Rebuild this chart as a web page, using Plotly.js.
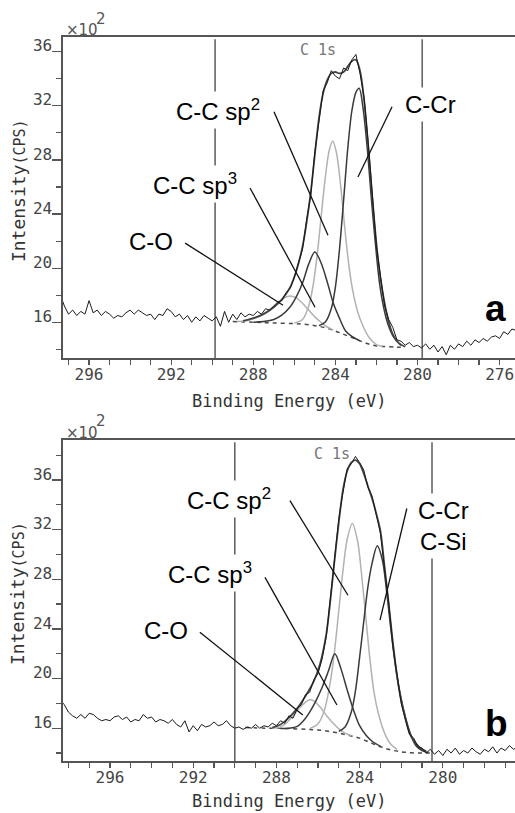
<!DOCTYPE html>
<html><head><meta charset="utf-8">
<script src="https://cdn.plot.ly/plotly-3.0.1.min.js"></script>
<style>html,body{margin:0;padding:0;background:#fff}#chart{width:515px;height:813px}</style>
</head><body><div id="chart"></div>
<script>
// Binding energy grid (eV), shared by both spectra
const energy = [
298.4,298.2,298.0,297.8,297.6,297.4,297.2,297.0,296.8,296.6,
296.4,296.2,296.0,295.8,295.6,295.4,295.2,295.0,294.8,294.6,
294.4,294.2,294.0,293.8,293.6,293.4,293.2,293.0,292.8,292.6,
292.4,292.2,292.0,291.8,291.6,291.4,291.2,291.0,290.8,290.6,
290.4,290.2,290.0,289.8,289.6,289.4,289.2,289.0,288.8,288.6,
288.4,288.2,288.0,287.8,287.6,287.4,287.2,287.0,286.8,286.6,
286.4,286.2,286.0,285.8,285.6,285.4,285.2,285.0,284.8,284.6,
284.4,284.2,284.0,283.8,283.6,283.4,283.2,283.0,282.8,282.6,
282.4,282.2,282.0,281.8,281.6,281.4,281.2,281.0,280.8,280.6,
280.4,280.2,280.0,279.8,279.6,279.4,279.2,279.0,278.8,278.6,
278.4,278.2,278.0,277.8,277.6,277.4,277.2,277.0,276.8,276.6,
276.4,276.2,276.0,275.8,275.6,275.4,275.2];

// Measured intensity (x10^2 CPS), panel a
const rawA = [
null,null,null,null,null,18.0,17.2,16.6,16.9,16.5,
16.8,16.6,17.6,16.7,16.9,16.5,16.8,16.6,16.3,16.5,
16.4,16.7,16.9,16.6,16.9,16.7,16.5,16.6,16.2,16.6,
16.5,17.0,16.8,16.4,16.6,16.2,16.5,16.0,16.4,16.1,
16.5,16.3,16.1,16.4,15.7,16.8,16.0,16.6,16.2,16.7,
16.4,16.6,16.5,16.8,16.6,17.0,16.9,17.2,17.5,17.6,
18.2,18.5,19.3,20.4,21.4,23.6,25.4,28.6,30.9,33.1,
33.7,34.6,34.2,34.0,34.8,34.6,35.4,35.8,34.4,32.6,
29.3,25.4,21.6,19.4,17.2,16.2,15.6,14.7,14.6,14.3,
14.5,14.2,14.3,14.1,14.4,14.0,14.3,13.8,14.2,13.6,
14.3,14.0,14.4,14.2,14.6,14.3,14.7,14.5,14.8,14.6,
14.9,15.0,14.8,15.3,15.1,15.5,15.4];

// Measured intensity (x10^2 CPS), panel b
const rawB = [
18.3,17.9,17.3,17.0,16.8,17.1,16.8,17.2,17.1,16.8,
16.6,16.7,16.6,16.9,17.0,16.7,16.9,16.5,16.7,16.6,
17.1,16.8,16.9,16.5,16.7,16.6,16.4,16.7,16.3,16.1,
16.6,15.7,16.2,15.8,16.3,16.1,16.2,16.5,16.2,16.3,
16.6,16.2,16.0,16.1,15.9,16.1,16.0,16.3,16.0,16.2,
16.1,16.4,16.2,16.6,16.4,17.0,16.8,17.6,17.9,18.7,
18.9,19.9,20.4,21.6,23.4,26.6,29.4,32.9,35.0,36.9,
37.3,37.9,37.4,36.8,35.4,34.7,33.2,31.7,28.8,26.1,
22.6,20.3,18.0,16.7,15.5,15.2,14.5,14.4,14.0,14.3,
13.9,14.2,13.8,14.3,14.0,14.4,13.9,14.2,14.0,14.4,
14.1,13.9,14.3,14.1,14.5,14.0,14.4,14.2,14.6,14.3,
14.5,14.2,14.4,14.3,14.5,14.4,14.5];

// Panel a fit: background, components, envelope
const bgAx = [289.0,288.0,287.0,286.0,285.5,285.0,284.5,284.0,283.5,283.0,282.5,282.0,281.5,281.0,280.7];
const bgAy = [16.05,16.0,15.95,15.9,15.85,15.75,15.6,15.35,15.05,14.75,14.45,14.25,14.2,14.15,14.15];
const coAx = [288.8,288.4,288.0,287.6,287.2,286.8,286.5,286.2,285.9,285.6,285.3,285.0,284.7,284.4,284.1];
const coAy = [16.06,16.1,16.25,16.55,16.95,17.45,17.8,17.95,17.8,17.4,16.9,16.4,16.0,15.65,15.42];
const sp3Ax = [288.0,287.5,287.0,286.6,286.2,285.9,285.6,285.3,285.0,284.7,284.4,284.1,283.8,283.5,283.2,282.8];
const sp3Ay = [16.0,16.05,16.2,16.55,17.15,17.9,18.9,20.3,21.2,20.4,19.0,17.4,16.3,15.35,14.95,14.62];
const sp2Ax = [286.0,285.6,285.3,285.1,284.9,284.7,284.5,284.3,284.13,283.95,283.75,283.55,283.35,283.15,282.9,282.65,282.35,282.0,281.7];
const sp2Ay = [15.95,16.2,17.2,18.6,20.8,23.7,26.6,28.7,29.4,28.55,26.2,23.1,20.3,18.3,16.7,15.7,14.85,14.35,14.2];
const crAx = [284.8,284.5,284.2,284.0,283.8,283.6,283.4,283.2,283.0,282.84,282.65,282.45,282.25,282.05,281.85,281.65,281.45,281.2,280.9,280.6];
const crAy = [15.75,16.0,17.0,18.6,21.4,25.0,28.8,31.6,33.0,33.3,31.8,28.9,25.2,21.8,18.9,17.1,15.9,15.0,14.45,14.18];
const envAx = [288.5,288.0,287.5,287.0,286.6,286.2,285.9,285.6,285.4,285.2,285.0,284.8,284.6,284.4,284.2,284.0,283.8,283.6,283.4,283.2,283.0,282.8,282.6,282.4,282.2,282.0,281.8,281.6,281.4,281.2,281.0,280.8];
const envAy = [16.1,16.3,16.6,17.1,17.7,18.6,19.8,21.6,23.4,25.6,28.4,31.1,32.9,33.9,34.4,34.5,34.4,34.5,34.9,35.3,35.4,34.6,32.4,29.0,25.2,21.8,19.2,17.4,16.0,15.1,14.6,14.3];

// Panel b fit
const bgBx = [289.5,288.5,287.5,286.5,286.0,285.5,285.0,284.5,284.0,283.5,283.0,282.5,282.0,281.5,281.0,280.6];
const bgBy = [16.05,16.0,15.98,15.9,15.85,15.75,15.6,15.42,15.2,14.85,14.5,14.25,14.1,14.02,14.0,14.0];
const coBx = [288.2,287.8,287.5,287.2,286.9,286.6,286.4,286.2,285.9,285.6,285.3,285.0,284.7,284.4];
const coBy = [16.0,16.1,16.45,17.0,17.6,18.1,18.3,18.2,17.7,17.05,16.45,15.95,15.6,15.4];
const sp3Bx = [287.8,287.4,287.0,286.7,286.4,286.1,285.8,285.5,285.19,284.9,284.6,284.3,284.0,283.7,283.4,283.0];
const sp3By = [15.98,16.0,16.15,16.6,17.3,18.2,19.3,20.6,22.0,20.8,19.1,17.5,16.2,15.45,14.95,14.55];
const sp2Bx = [286.4,286.0,285.7,285.4,285.2,285.0,284.8,284.6,284.35,284.1,283.9,283.7,283.5,283.3,283.1,282.8,282.5,282.2];
const sp2By = [15.97,16.35,17.4,19.8,22.3,25.5,28.7,31.2,32.5,31.1,28.3,24.9,21.5,18.8,17.2,15.6,14.7,14.3];
const crBx = [285.0,284.7,284.4,284.2,284.0,283.8,283.6,283.4,283.15,282.9,282.7,282.5,282.3,282.1,281.9,281.7,281.5,281.3,281.0,280.7];
const crBy = [15.75,16.1,17.3,19.0,21.7,24.6,27.4,29.3,30.7,29.5,27.0,24.0,21.3,19.2,17.6,16.3,15.3,14.6,14.2,14.05];
const envBx = [288.2,287.8,287.4,287.0,286.6,286.2,285.9,285.6,285.4,285.2,285.0,284.8,284.6,284.4,284.2,284.0,283.8,283.6,283.4,283.2,283.0,282.8,282.6,282.4,282.2,282.0,281.8,281.6,281.4,281.2,281.0,280.8];
const envBy = [16.05,16.3,16.85,17.6,18.6,19.8,21.2,23.6,26.4,29.6,32.6,35.2,36.7,37.4,37.6,37.3,36.5,35.5,34.5,33.3,31.9,29.0,26.0,22.9,20.2,18.2,16.8,15.6,15.0,14.6,14.3,14.15];

// Labels
const peakLabelsA = ['C-C sp<sup>2</sup>','C-C sp<sup>3</sup>','C-O','C-Cr'];
const peakLabelsB = ['C-C sp<sup>2</sup>','C-C sp<sup>3</sup>','C-O','C-Cr<br>C-Si'];
const xTickVals = [296,292,288,284,280,276];
const yTickVals = [16,20,24,28,32,36];

const DARK = '#3a3a3a', LIGHT = '#b2b2b2';
function panel(xa, ya, raw, bx, by, cox, coy, s3x, s3y, s2x, s2y, crx, cry, ex, ey){
  const sp = {shape:'spline', smoothing:0.9};
  return [
    {x:bx, y:by, xaxis:xa, yaxis:ya, mode:'lines', line:{color:'#4a4a4a', width:1.5, dash:'4px,4px', shape:'spline'}, hoverinfo:'skip'},
    {x:cox, y:coy, xaxis:xa, yaxis:ya, mode:'lines', line:Object.assign({color:LIGHT, width:1.5}, sp)},
    {x:s2x, y:s2y, xaxis:xa, yaxis:ya, mode:'lines', line:Object.assign({color:LIGHT, width:1.5}, sp)},
    {x:s3x, y:s3y, xaxis:xa, yaxis:ya, mode:'lines', line:Object.assign({color:DARK, width:1.5}, sp)},
    {x:crx, y:cry, xaxis:xa, yaxis:ya, mode:'lines', line:Object.assign({color:DARK, width:1.5}, sp)},
    {x:ex, y:ey, xaxis:xa, yaxis:ya, mode:'lines', line:Object.assign({color:'#444', width:1.8}, sp)},
    {x:energy, y:raw, xaxis:xa, yaxis:ya, mode:'lines', line:{color:'#1a1a1a', width:1}, connectgaps:false}
  ];
}
const data = panel('x','y',rawA,bgAx,bgAy,coAx,coAy,sp3Ax,sp3Ay,sp2Ax,sp2Ay,crAx,crAy,envAx,envAy)
  .concat(panel('x2','y2',rawB,bgBx,bgBy,coBx,coBy,sp3Bx,sp3By,sp2Bx,sp2By,crBx,crBy,envBx,envBy));

const AX = '#555';
const tickFont = {family:'DejaVu Sans Mono', size:16, color:'#444'};
function xAxis(range, anchor){
  return {domain:[0.1223,1], range:range, anchor:anchor, showline:true, linecolor:AX, linewidth:1.6, mirror:true,
    ticks:'outside', ticklen:5, tickwidth:1.2, tickcolor:AX, tickvals:xTickVals, ticktext:xTickVals.map(String),
    minor:{dtick:1, tick0:0, ticks:'outside', ticklen:5, tickwidth:1.2, tickcolor:AX, showgrid:false},
    showgrid:false, zeroline:false, tickfont:tickFont, ticklabelstandoff:-4};
}
function yAxis(domain, range, anchor){
  return {domain:domain, range:range, anchor:anchor, showline:true, linecolor:AX, linewidth:1.6, mirror:true,
    ticks:'outside', ticklen:9, tickwidth:1.2, tickcolor:AX, tickvals:yTickVals, ticktext:yTickVals.map(String),
    minor:{dtick:2, tick0:0, ticks:'outside', ticklen:5, tickwidth:1.2, tickcolor:AX, showgrid:false},
    showgrid:false, zeroline:false, tickfont:tickFont, ticklabelshift:-6, ticklabelstandoff:-3};
}

const lblFont = {family:'Liberation Sans, Arial', size:24, color:'#000'};
function peakAnn(xr, yr, texts, xs, ys){
  return texts.map((t,i)=>({xref:xr, yref:yr, x:xs[i], y:ys[i], text:t, showarrow:false, font:lblFont,
    bgcolor:'#fff', borderpad:3, xanchor:'center', yanchor:'middle'}));
}
function leader(xr, yr, seg){
  return {type:'line', xref:xr, yref:yr, x0:seg[0], y0:seg[1], x1:seg[2], y1:seg[3], line:{color:'#111', width:1.3}, layer:'above'};
}
function region(xr, yr, xv){
  return {type:'line', xref:xr, yref:yr+' domain', x0:xv, x1:xv, y0:0, y1:0.993, line:{color:'#666', width:1.6}, layer:'below'};
}
function txt(o){ return Object.assign({xref:'paper', yref:'paper', showarrow:false, xanchor:'center', yanchor:'middle'}, o); }

const annotations = []
 .concat(peakAnn('x','y',peakLabelsA,[289.72,290.84,292.98,279.39],[31.7,26.2,22.0,32.1]))
 .concat(peakAnn('x2','y2',peakLabelsB,[290.28,291.2,293.31,279.95],[34.5,28.5,23.9,32.3]))
 .concat([
  txt({xref:'x', yref:'y', x:284.85, y:36.15, text:'C 1s', font:{family:'DejaVu Sans Mono', size:15, color:'#777'}}),
  txt({xref:'x2', yref:'y2', x:285.33, y:38.11, text:'C 1s', font:{family:'DejaVu Sans Mono', size:15, color:'#777'}}),
  txt({xref:'x', yref:'y', x:276.18, y:17.0, text:'<b>a</b>', font:{family:'Liberation Sans, Arial', size:37, color:'#000'}}),
  txt({xref:'x2', yref:'y2', x:277.4, y:16.4, text:'<b>b</b>', font:{family:'Liberation Sans, Arial', size:37, color:'#000'}}),
  txt({x:0.5612, y:0.5068, text:'Binding Energy (eV)', font:{family:'DejaVu Sans Mono', size:17, color:'#333'}}),
  txt({x:0.5612, y:0.0148, text:'Binding Energy (eV)', font:{family:'DejaVu Sans Mono', size:17, color:'#333'}}),
  txt({x:0.035, y:0.765, textangle:-90, text:'Intensity<span style="font-size:15px">(CPS)</span>', font:{family:'DejaVu Sans Mono', size:18, color:'#333'}}),
  txt({x:0.035, y:0.2694, textangle:-90, text:'Intensity<span style="font-size:15px">(CPS)</span>', font:{family:'DejaVu Sans Mono', size:18, color:'#333'}}),
  txt({x:0.1243, y:0.9631, xanchor:'left', text:'×10', font:{family:'DejaVu Sans', size:15, color:'#555'}}),
  txt({x:0.1961, y:0.9772, text:'2', font:{family:'DejaVu Sans', size:15, color:'#555'}}),
  txt({x:0.1243, y:0.4674, xanchor:'left', text:'×10', font:{family:'DejaVu Sans', size:15, color:'#555'}}),
  txt({x:0.1961, y:0.4822, text:'2', font:{family:'DejaVu Sans', size:15, color:'#555'}})
 ]);

const shapes = [
  region('x','y',289.86), region('x','y',279.77),
  region('x2','y2',290.0), region('x2','y2',280.52),
  leader('x','y',[286.99,31.56,284.36,22.44]),
  leader('x','y',[288.16,25.93,284.99,17.11]),
  leader('x','y',[291.32,21.85,286.55,17.26]),
  leader('x','y',[281.24,31.93,282.9,26.74]),
  leader('x2','y2',[287.35,34.34,284.56,26.71]),
  leader('x2','y2',[288.55,28.15,285.09,17.87]),
  leader('x2','y2',[291.68,23.74,286.73,17.07]),
  leader('x2','y2',[281.73,33.7,283.02,24.7])
];

const layout = {
  width:515, height:813, margin:{l:0,r:0,t:0,b:0}, showlegend:false,
  paper_bgcolor:'#fff', plot_bgcolor:'#fff',
  xaxis: xAxis([297.27,275.25],'y'),
  yaxis: yAxis([0.5597,0.9545],[13.36,37.09],'x'),
  xaxis2: xAxis([298.26,276.53],'y2'),
  yaxis2: yAxis([0.064,0.4588],[13.36,39.22],'x2'),
  annotations: annotations, shapes: shapes
};
Plotly.newPlot('chart', data, layout, {staticPlot:true, displayModeBar:false});
</script></body></html>
